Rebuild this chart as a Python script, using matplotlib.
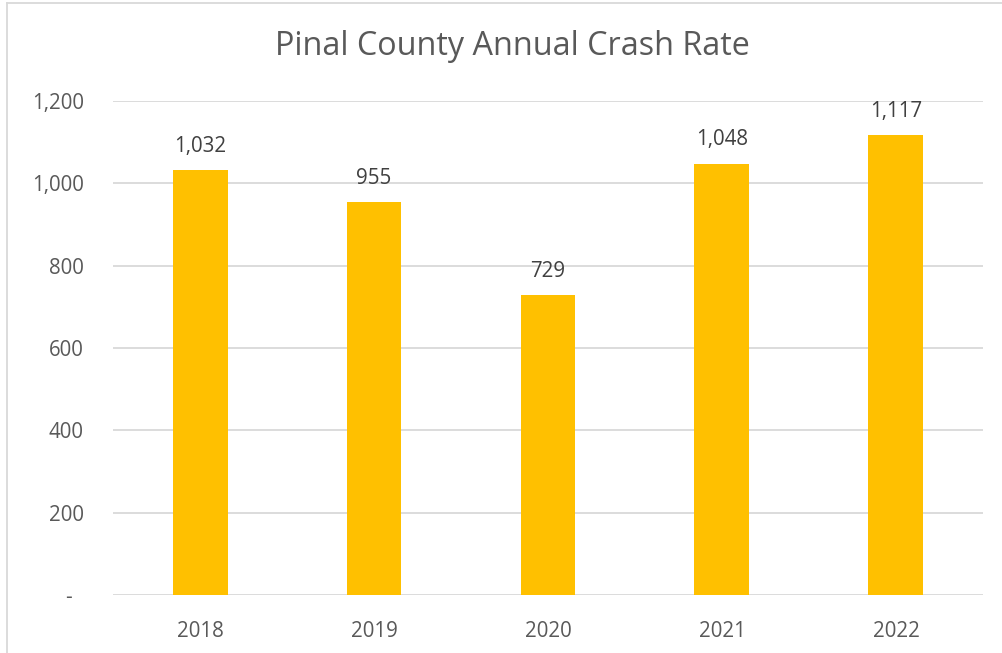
import matplotlib
matplotlib.use("Agg")
import matplotlib.pyplot as plt
from matplotlib.lines import Line2D

plt.rcParams['font.family'] = ['Open Sans', 'DejaVu Sans']

years = ["2018", "2019", "2020", "2021", "2022"]
crashes = [1032, 955, 729, 1048, 1117]
y_ticks = [0, 200, 400, 600, 800, 1000, 1200]
y_labels = ["-  ", "200", "400", "600", "800", "1,000", "1,200"]

text_col = "#595959"
bar_col = "#FFC000"
grid_col = "#D9D9D9"

fig = plt.figure(figsize=(10.02, 6.53), dpi=100)
ax = fig.add_axes([0.1128, 0.0888, 0.8682, 0.7565])

xs = range(len(years))
ax.bar(xs, crashes, width=0.316, color=bar_col, zorder=3)
for x, v in zip(xs, crashes):
    ax.annotate(f"{v:,}", (x, v), xytext=(0, 9.5), textcoords="offset points",
                ha="center", va="bottom", fontsize=14.8, color="#404040")

ax.set_xlim(-0.5, len(years) - 0.5)
ax.set_ylim(0, 1200)
ax.set_yticks(y_ticks)
ax.set_yticklabels(y_labels)
ax.set_xticks(list(xs))
ax.set_xticklabels(years)
ax.tick_params(axis="both", length=0, labelsize=14.8, labelcolor=text_col)
ax.tick_params(axis="y", pad=21)
ax.tick_params(axis="x", pad=18.5)
ax.yaxis.grid(True, color=grid_col, linewidth=1.3, zorder=0)
for s in ax.spines.values():
    s.set_visible(False)

fig.text(0.511, 0.929, "Pinal County Annual Crash Rate", ha="center", va="center",
         fontsize=23.3, color=text_col)

# chart-area border (left and top edges visible)
fig.add_artist(Line2D([7 / 1002, 7 / 1002], [0, 1 - 3 / 653], color=grid_col,
                      linewidth=1.3, transform=fig.transFigure))
fig.add_artist(Line2D([7 / 1002, 1], [1 - 3 / 653, 1 - 3 / 653], color=grid_col,
                      linewidth=1.3, transform=fig.transFigure))

fig.savefig("out.png", dpi=100)
